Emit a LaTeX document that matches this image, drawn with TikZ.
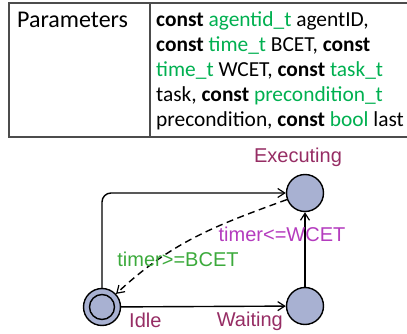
\documentclass[tikz,border=0pt]{standalone}
\usepackage{fontspec}
\setmainfont{Carlito}
\newfontfamily\uppaalfont{Liberation Sans}
\usetikzlibrary{arrows.meta, positioning}
\definecolor{typegreen}{RGB}{0,176,80}
\definecolor{locfill}{RGB}{168,177,210}
\definecolor{locname}{RGB}{150,45,100}
\definecolor{invcol}{RGB}{180,60,190}
\definecolor{guardcol}{RGB}{60,170,60}
\newcommand{\kw}[1]{\textbf{#1}}
\newcommand{\ty}[1]{\textcolor{typegreen}{#1}}
\tikzset{
  loc/.style={circle, draw, line width=1.4pt, fill=locfill, minimum size=37pt, inner sep=0pt},
  edge/.style={line width=1.4pt, -{Straight Barb[length=7pt,width=9pt,line width=1.2pt]}},
  uptext/.style={font=\uppaalfont\fontsize{20}{24}\selectfont, inner sep=0pt},
  partext/.style={font=\fontsize{21.4}{25}\selectfont, inner sep=0pt, anchor=base west}
}
\begin{document}
\begin{tikzpicture}[x=1pt, y=1pt]
	\useasboundingbox (0,0) rectangle (407,-334);
	\draw[line width=1.6pt, gray!60!black] (407,-3) -- (9,-3) -- (9,-137) -- (407,-137) (150,-3) -- (150,-137);
	\node[partext, font=\fontsize{24}{25}\selectfont] (par) at (17,-28) {Parameters};
	\node[partext] (p1) at (156,-27) {\kw{const} \ty{agentid\_t} agentID,};
	\node[partext] (p2) at (156,-52) {\kw{const} \ty{time\_t} BCET, \kw{const}};
	\node[partext] (p3) at (156,-77) {\ty{time\_t} WCET, \kw{const} \ty{task\_t}};
	\node[partext] (p4) at (156,-102) {task, \kw{const} \ty{precondition\_t}};
	\node[partext] (p5) at (156,-127) {precondition, \kw{const} \ty{bool} last};

	\node[loc] (exec) at (305,-193) {};
	\node[loc] (wait) at (305,-306) {};
	\node[loc] (idle) at (102,-307) {};
	\draw[line width=1.4pt] (idle.center) circle (12.5pt);
	\node[uptext, locname, above=7pt of exec, xshift=-7pt] (execlbl) {Executing};
	\node[uptext, locname, anchor=base west] (idlelbl) at (129,-327) {Idle};
	\node[uptext, locname, anchor=base east] (waitlbl) at (283,-326) {Waiting};

	\draw[edge, rounded corners=9pt] (idle) |- (exec);
	\draw[edge] (idle) -- (wait);
	\draw[edge] (wait) -- (exec);
	\draw[edge, dashed, dash pattern=on 7pt off 4.5pt] (exec) to[out=200, in=43] (idle);
	\node[uptext, invcol] (inv) at (282,-234) {timer<=WCET};
	\node[uptext, guardcol] (guard) at (178,-259) {timer>=BCET};
\end{tikzpicture}
\end{document}
